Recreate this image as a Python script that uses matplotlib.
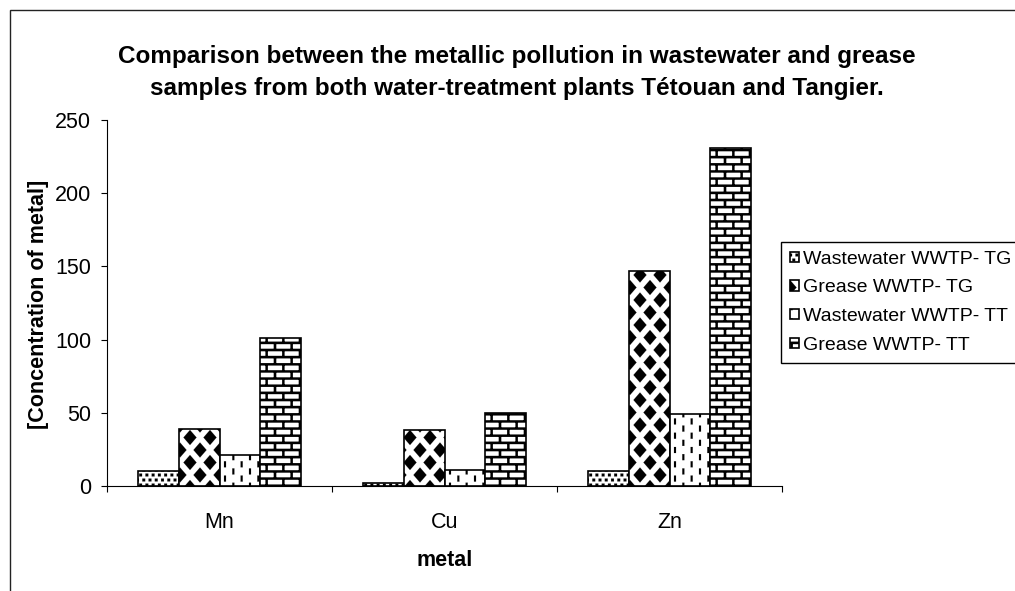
import numpy as np
import matplotlib
matplotlib.use('Agg')
import matplotlib.pyplot as plt
import matplotlib.hatch as mhatch
from matplotlib.path import Path
from matplotlib.patches import Rectangle

plt.rcParams['font.family'] = ['Liberation Sans', 'DejaVu Sans']
plt.rcParams['hatch.linewidth'] = 0.1

############# DATOS ##################################
metals = ['Mn', 'Cu', 'Zn']
labels = ['Wastewater WWTP- TG', 'Grease WWTP- TG',
          'Wastewater WWTP- TT', 'Grease WWTP- TT']
ww_tg = [10, 2, 10]
gr_tg = [39, 38, 147]
ww_tt = [21, 11, 49]
gr_tt = [101, 50, 231]

titulo1 = 'Comparison between the metallic pollution in wastewater and grease'
titulo2 = 'samples from both water-treatment plants Tétouan and Tangier.'


############# TRAMAS tipo Excel ######################
# the hatch tile is 72 pt = 100 px at dpi 100, patterns drawn in px
def rect(x, y, w, h):
    return [(x, y), (x + w, y), (x + w, y + h), (x, y + h)]

def puntos():
    out = []
    for j in range(-1, 21):
        for i in range(-1, 17):
            x = i * 6.25 + (3.125 if j % 2 else 0)
            out.append(rect(x - 1.4, j * 5 - 1.4, 2.8, 2.8))
    return out

def diamantes():
    out = []
    for j in range(-1, 9):
        for i in range(-1, 6):
            x = i * 20 + (10 if j % 2 else 0)
            y = j * 12.5
            out.append([(x - 6.5, y), (x, y - 7.5), (x + 6.5, y), (x, y + 7.5)])
    return out

def rayas():
    out = []
    for i in range(-1, 13):
        for j in range(-1, 8):
            x = i * 100 / 12
            y = j * 100 / 7 + (50 / 7 if i % 2 else 0)
            out.append(rect(x - 1, y - 3, 2, 6))
    return out

def ladrillos():
    out = []
    h, L, t = 100 / 14, 100 / 6, 2.4
    for j in range(-1, 15):
        out.append(rect(-5, j * h - t / 2, 110, t))
        for i in range(-1, 7):
            x = i * L + (L / 2 if j % 2 else 0)
            out.append(rect(x - t / 2, j * h, t, h))
    return out

def a_path(polys):
    verts, codes = [], []
    for p in polys:
        verts += list(p) + [p[0]]
        codes += [Path.MOVETO] + [Path.LINETO] * (len(p) - 1) + [Path.CLOSEPOLY]
    return np.array(verts, float) / 100.0, np.array(codes, Path.code_type)

tramas = {'.': a_path(puntos()), '*': a_path(diamantes()),
          '|': a_path(rayas()), '+': a_path(ladrillos())}


class Trama(mhatch.HatchPatternBase):
    def __init__(self, hatch, density):
        self.num_vertices = 0
        for ch, (v, c) in tramas.items():
            if ch in hatch:
                self.v, self.c = v, c
                self.num_vertices = len(v)

    def set_vertices_and_codes(self, vertices, codes):
        vertices[:] = self.v
        codes[:] = self.c


mhatch._hatch_types[:] = [Trama]

############# GRAFICO ################################
fig = plt.figure(figsize=(10.15, 5.91), dpi=100)
ax = fig.add_axes([107 / 1015, 1 - 486 / 591, 675 / 1015, 366 / 591])

# marco del area del grafico
fig.patches.append(Rectangle((10 / 1015, -0.2), 1.2, 1 - 10 / 591 + 0.2,
                             transform=fig.transFigure, fill=False,
                             ec='#222222', lw=1.0))

x = np.arange(len(metals))
w = 1 / 5.5
series = [ww_tg, gr_tg, ww_tt, gr_tt]
hatches = ['.', '*', '|', '+']
for k in range(4):
    ax.bar(x + (k - 1.5) * w, series[k], width=w, facecolor='white',
           edgecolor='black', hatch=hatches[k], linewidth=1.2,
           label=labels[k])

ax.set_xlim(-0.5, 2.5)
ax.set_ylim(0, 250)
ax.set_yticks(range(0, 251, 50))
ax.set_xticks([-0.5, 0.5, 1.5, 2.5])
ax.set_xticklabels([])
ax.set_xticks(x, minor=True)
ax.set_xticklabels(metals, minor=True)
ax.tick_params(axis='x', which='major', length=4.5, width=0.8, direction='out')
ax.tick_params(axis='x', which='minor', length=0, pad=19, labelsize=15.5)
ax.tick_params(axis='y', length=4.5, width=0.8, pad=7, labelsize=15.5)
for s in ['top', 'right']:
    ax.spines[s].set_visible(False)
for s in ['left', 'bottom']:
    ax.spines[s].set_linewidth(0.8)
    ax.spines[s].set_color('black')

ax.set_xlabel('metal', fontsize=15.5, fontweight='bold', va='center')
ax.xaxis.set_label_coords(0.5, (486 - 561) / 366)
ax.set_ylabel('[Concentration of metal]', fontsize=15.5, fontweight='bold',
              va='center')
ax.yaxis.set_label_coords((39 - 107) / 675, (486 - 304) / 366)

fig.text(517 / 1015, 1 - 63 / 591, titulo1, ha='center', va='baseline',
         fontsize=17.5, fontweight='bold')
fig.text(517 / 1015, 1 - 95 / 591, titulo2, ha='center', va='baseline',
         fontsize=17.5, fontweight='bold')

leg = ax.legend(loc='upper left', bbox_to_anchor=(781 / 1015, 1 - 242 / 591),
                bbox_transform=fig.transFigure, fancybox=False, framealpha=1,
                edgecolor='black', fontsize=14, handlelength=0.45,
                handleheight=0.45, handletextpad=0.25, borderpad=0.45,
                labelspacing=0.6, borderaxespad=0)
leg.get_frame().set_linewidth(1.0)

plt.savefig('out.png', dpi=100)
